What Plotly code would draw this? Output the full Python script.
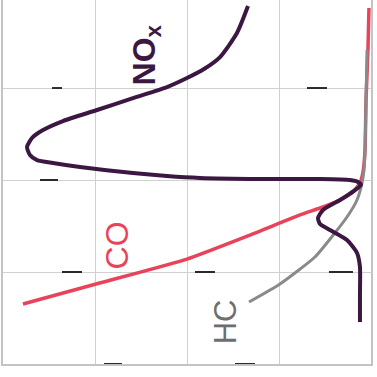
#emission curves (NOx, CO, HC) over a plain 4x4 grid, labels written along the lines

import plotly.graph_objects as go

#NOx curve (dark purple)
nox_x = [2.663, 2.543, 2.359, 2.185, 2.0, 1.783, 1.413, 1.022, 0.652, 0.435, 0.315, 0.261, 0.293,
         0.370, 0.543, 0.837, 1.413, 1.783, 2.141, 2.793, 3.446, 3.772, 3.859, 3.891, 3.826,
         3.663, 3.478, 3.424, 3.446, 3.554, 3.739, 3.848, 3.880, 3.880, 3.880]
nox_y = [3.891, 3.598, 3.337, 3.207, 3.109, 3.011, 2.891, 2.761, 2.641, 2.543, 2.457, 2.359, 2.272,
         2.217, 2.185, 2.141, 2.076, 2.043, 2.022, 2.011, 2.011, 2.0, 1.978, 1.946, 1.891,
         1.783, 1.674, 1.587, 1.522, 1.457, 1.348, 1.207, 1.054, 0.750, 0.457]

#CO curve (red)
co_x = [0.217, 1.011, 2.0, 2.685, 3.228, 3.446, 3.663, 3.804, 3.880, 3.913, 3.935, 3.946, 3.967, 3.978]
co_y = [0.652, 0.870, 1.141, 1.402, 1.620, 1.696, 1.783, 1.870, 1.967, 2.087, 2.326, 2.870, 3.413, 3.870]

#HC curve (grey)
hc_x = [2.674, 3.011, 3.391, 3.598, 3.739, 3.848, 3.902, 3.924, 3.935, 3.946, 3.957]
hc_y = [0.674, 0.870, 1.163, 1.413, 1.598, 1.783, 1.967, 2.109, 2.326, 2.870, 3.413]

#little black dashes sitting on the grid lines (start x, end x, y)
dash_x0 = [0.533, 0.402, 0.641, 1.098, 3.304, 2.087, 3.543, 2.522]
dash_x1 = [0.641, 0.598, 0.859, 1.293, 3.522, 2.304, 3.804, 2.739]
dash_y = [3, 2, 1, 0, 3, 1, 1, 0]

NOX_COL = "#3b1742"
CO_COL = "#e8435a"
HC_COL = "#8a8a8a"

fig = go.Figure()

dx, dy = [], []
for a, b, c in zip(dash_x0, dash_x1, dash_y):
    dx += [a, b, None]
    dy += [c, c, None]
fig.add_trace(go.Scatter(x=dx, y=dy, mode="lines", line=dict(color="#2a2a2a", width=2),
                         hoverinfo="skip", cliponaxis=False))

fig.add_trace(go.Scatter(x=co_x, y=co_y, mode="lines", name="CO",
                         line=dict(color=CO_COL, width=3.5, shape="spline", smoothing=0.5)))
fig.add_trace(go.Scatter(x=hc_x, y=hc_y, mode="lines", name="HC",
                         line=dict(color=HC_COL, width=3, shape="spline", smoothing=0.5)))
fig.add_trace(go.Scatter(x=nox_x, y=nox_y, mode="lines", name="NOx",
                         line=dict(color=NOX_COL, width=4, shape="spline", smoothing=0.6)))

fig.add_annotation(x=1.56, y=3.36, text="<b>NO<sub>x</sub></b>", textangle=-90, showarrow=False,
                   font=dict(family="Liberation Sans", size=32, color=NOX_COL))
fig.add_annotation(x=1.24, y=1.29, text="CO", textangle=-90, showarrow=False,
                   font=dict(family="Liberation Sans", size=32, color=CO_COL))
fig.add_annotation(x=2.42, y=0.46, text="HC", textangle=-90, showarrow=False,
                   font=dict(family="Liberation Sans", size=31, color="#6e6e6e"))

fig.update_xaxes(range=[0, 4], dtick=1, showticklabels=False, ticks="", zeroline=False,
                 showgrid=True, gridcolor="#d0d0d0", gridwidth=1,
                 showline=True, linecolor="#c4c4c4", linewidth=1.5, mirror=False)
fig.update_yaxes(range=[0, 3.957], dtick=1, showticklabels=False, ticks="", zeroline=False,
                 showgrid=True, gridcolor="#d0d0d0", gridwidth=1,
                 showline=True, linecolor="#c4c4c4", linewidth=1.5, mirror=True)

fig.update_layout(width=377, height=377, showlegend=False,
                  margin=dict(l=3, r=6, t=0, b=13),
                  plot_bgcolor="white", paper_bgcolor="white")

#page body has an 8px margin by default, take it away so the plot sits at 0,0
fig.write_html("out.html", config={"displayModeBar": False},
               post_script="document.body.style.margin='0';")
